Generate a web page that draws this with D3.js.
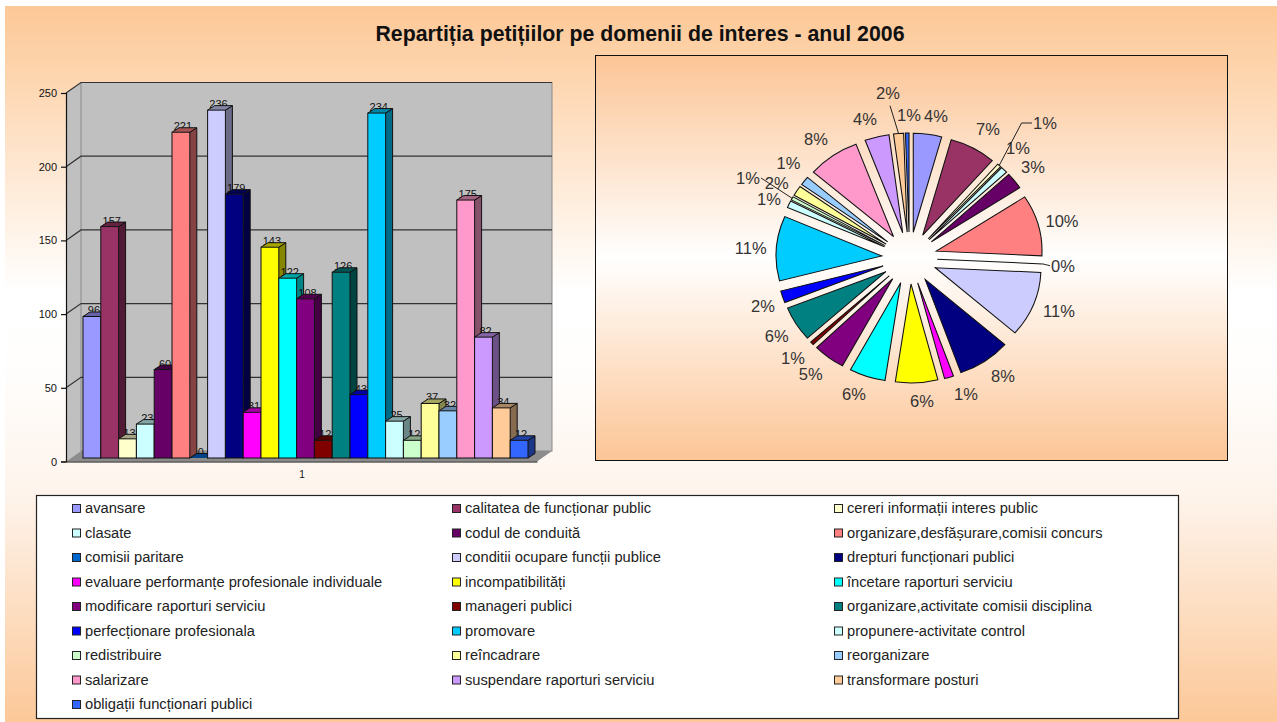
<!DOCTYPE html>
<html>
<head>
<meta charset="utf-8">
<script src="https://cdn.jsdelivr.net/npm/d3@7"></script>
<style>
  html, body { margin: 0; padding: 0; background: #fff; }
  svg { display: block; font-family: "Liberation Sans", Arial, sans-serif; }
</style>
</head>
<body>
<svg width="1277" height="722"></svg>
<script>
const categories = [
  'avansare', 'calitatea de funcționar public', 'cereri informații interes public',
  'clasate', 'codul de conduită', 'organizare,desfășurare,comisii concurs',
  'comisii paritare', 'conditii ocupare funcții publice', 'drepturi funcționari publici',
  'evaluare performanțe profesionale individuale', 'incompatibilități', 'încetare raporturi serviciu',
  'modificare raporturi serviciu', 'manageri publici', 'organizare,activitate comisii disciplina',
  'perfecționare profesionala', 'promovare', 'propunere-activitate control',
  'redistribuire', 'reîncadrare', 'reorganizare',
  'salarizare', 'suspendare raporturi serviciu', 'transformare posturi',
  'obligații funcționari publici'
];
const values = [96, 157, 13, 23, 60, 221, 0, 236, 179, 31, 143, 122, 108, 12, 126, 43, 234, 25, 12, 37, 32, 175, 82, 34, 12];
const colors = [
  '#9999ff', '#993366', '#ffffcc', '#ccffff', '#660066', '#ff8080', '#0066cc', '#ccccff', '#000080',
  '#ff00ff', '#ffff00', '#00ffff', '#800080', '#800000', '#008080', '#0000ff', '#00ccff', '#ccffff',
  '#ccffcc', '#ffff99', '#99ccff', '#ff99cc', '#cc99ff', '#ffcc99', '#3366ff'
];
const yTicks = [0, 50, 100, 150, 200, 250];

const title = 'Repartiția petițiilor pe domenii de interes - anul 2006';

const svg = d3.select('svg');
const defs = svg.append('defs');

function gradient(id, stops) {
  defs.append('linearGradient')
      .attr('id', id)
      .attr('x1', 0).attr('x2', 0).attr('y1', 0).attr('y2', 1)
    .selectAll('stop')
    .data(stops)
    .join('stop')
      .attr('offset', d => d[0])
      .attr('stop-color', d => d[1]);
}
gradient('pageBg', [[0, '#fdc896'], [0.4, '#ffffff'], [0.5, '#fffefd'], [0.68, '#fef4ec'], [1, '#fcc898']]);
gradient('boxBg', [[0, '#fcc596'], [0.5, '#ffffff'], [1, '#fcc596']]);

svg.append('rect')
    .attr('x', 5).attr('y', 6)
    .attr('width', 1272).attr('height', 716)
    .attr('fill', 'url(#pageBg)');

svg.append('text')
    .attr('x', 640).attr('y', 41)
    .attr('text-anchor', 'middle')
    .attr('font-size', 21.3)
    .attr('font-weight', 'bold')
    .attr('fill', '#111')
    .text(title);

/* bar chart */
const depthX = 15, depthY = 10.5;
const x = d3.scaleBand().domain(categories).range([83, 528]);
const y = d3.scaleLinear().domain([0, 250]).range([461.5, 93]);
const barY = d3.scaleLinear().domain([0, 250]).range([458, 89.5]);
const wallL = 66, wallR = 537;

const bars = svg.append('g');

// left wall, back wall, floor
bars.append('path')
    .attr('d', d3.line()([[wallL, y(250)], [wallL + depthX, y(250) - depthY], [wallL + depthX, y(0) - depthY], [wallL, y(0)]]))
    .attr('fill', '#c0c0c0');
bars.append('rect')
    .attr('x', wallL + depthX).attr('y', y(250) - depthY)
    .attr('width', wallR - wallL).attr('height', y(0) - y(250))
    .attr('fill', '#c0c0c0')
    .attr('stroke', '#8a8a8a');
bars.append('path')
    .attr('d', d3.line()([[wallL, y(0)], [wallL + depthX, y(0) - depthY], [wallR + depthX, y(0) - depthY], [wallR, y(0)]]))
    .attr('fill', '#8c8c8c');

// gridlines
bars.selectAll('.grid')
  .data(yTicks.slice(1))
  .join('path')
    .classed('grid', true)
    .attr('d', d => d3.line()([[wallL, y(d)], [wallL + depthX, y(d) - depthY], [wallR + depthX, y(d) - depthY]]))
    .attr('fill', 'none')
    .attr('stroke', '#333')
    .attr('stroke-width', 1.2);

// 3d columns, left to right so each front covers the side of the one before
const series = categories.map((c, i) => ({name: c, value: values[i], color: colors[i]}));
const depth = 7, lift = 4.5;
const column = bars.selectAll('.column')
  .data(series)
  .join('g')
    .classed('column', true);

column.append('text')
    .attr('x', d => x(d.name) + x.bandwidth() / 2 + 2)
    .attr('y', d => barY(d.value) - 2)
    .attr('text-anchor', 'middle')
    .attr('font-size', 11)
    .attr('fill', '#111')
    .text(d => d.value);

column.append('path')
    .attr('d', d => {
      const l = x(d.name), r = l + x.bandwidth(), t = barY(d.value);
      return d3.line()([[r, t], [r + depth, t - lift], [r + depth, barY(0) - lift], [r, barY(0)]]);
    })
    .attr('fill', d => d3.rgb(d.color).darker(1.8))
    .attr('stroke', '#111');
column.append('path')
    .attr('d', d => {
      const l = x(d.name), r = l + x.bandwidth(), t = barY(d.value);
      return d3.line()([[l, t], [l + depth, t - lift], [r + depth, t - lift], [r, t]]);
    })
    .attr('fill', d => d3.rgb(d.color).darker(1.2))
    .attr('stroke', '#111');
column.append('rect')
    .attr('x', d => x(d.name))
    .attr('y', d => barY(d.value))
    .attr('width', x.bandwidth())
    .attr('height', d => barY(0) - barY(d.value))
    .attr('fill', d => d.color)
    .attr('stroke', '#111');

// axes
const yAxis = svg.append('g')
    .attr('transform', `translate(${wallL},0)`)
    .call(d3.axisLeft(y).tickValues(yTicks).tickSize(5).tickPadding(4));
yAxis.selectAll('text').attr('font-size', 11).attr('font-family', '"Liberation Sans"').attr('fill', '#111');
yAxis.selectAll('line, path').attr('stroke', '#111').attr('stroke-width', 1.2);

const xAxis = svg.append('g')
    .attr('transform', `translate(0,${y(0)})`)
    .call(d3.axisBottom(d3.scalePoint().domain(['1']).range([wallL, wallR]).padding(0.5)).tickSize(0).tickPadding(9));
xAxis.selectAll('text').attr('font-size', 10).attr('font-family', '"Liberation Sans"').attr('fill', '#111');
xAxis.select('.domain').attr('stroke', '#111').attr('stroke-width', 1.2);

/* pie chart */
svg.append('rect')
    .attr('x', 595.5).attr('y', 55.5)
    .attr('width', 632).attr('height', 405)
    .attr('fill', 'url(#boxBg)')
    .attr('stroke', '#111');

const cx = 909.5, cy = 258, sx = 1.068;
const radius = 99, explode = 26;
const pie = d3.pie().sort(null).value(d => d.value)(series);
const arc = d3.arc().innerRadius(0).outerRadius(radius);

const pieG = svg.append('g').attr('transform', `translate(${cx},${cy}) scale(${sx},1)`);

pieG.selectAll('.slice')
  .data(pie)
  .join('path')
    .classed('slice', true)
    .attr('d', arc)
    .attr('transform', d => {
      const a = (d.startAngle + d.endAngle) / 2;
      return `translate(${Math.sin(a) * explode},${-Math.cos(a) * explode})`;
    })
    .attr('fill', d => d.data.color)
    .attr('stroke', '#111')
    .attr('stroke-width', 1);

// label centres relative to the pie centre, hand placed like the original
const labelOffsets = [
  [26.5, -142], [78.5, -129], [135.5, -135], [108.5, -110], [123.5, -91],
  [152.5, -37], [153.5, 7.7], [149.5, 53], [93.5, 118], [56.5, 136],
  [12.5, 142.7], [-55.5, 136], [-98.8, 116], [-116.5, 100], [-132.8, 78],
  [-146.5, 47.7], [-158.8, -10], [-140.5, -59], [-161.5, -80], [-132.8, -75],
  [-121, -95], [-93.5, -119], [-44.5, -139], [-21.5, -165.3], [-0.5, -143]
];
const leaderIndex = [2, 6, 18, 23];

const percent = d3.format('.0%');
const total = d3.sum(values);

svg.append('g')
    .selectAll('text')
    .data(pie)
    .join('text')
      .attr('x', (d, i) => cx + labelOffsets[i][0])
      .attr('y', (d, i) => cy + labelOffsets[i][1] + 6)
      .attr('text-anchor', 'middle')
      .attr('font-size', 16.5)
      .attr('fill', '#333')
      .text(d => percent(d.value / total));

svg.append('g')
    .selectAll('path')
    .data(leaderIndex.map(i => [pie[i], labelOffsets[i]]))
    .join('path')
      .attr('d', ([d, off]) => {
        const a = (d.startAngle + d.endAngle) / 2;
        const r = radius + explode;
        const edge = [cx + Math.sin(a) * r * sx, cy - Math.cos(a) * r];
        // label right above its slice: the line stops under the text
        if (Math.abs(off[0]) < 30) return d3.line()([edge, [cx + off[0] + 2, cy + off[1] + 13]]);
        const side = off[0] > 0 ? -13 : 13;
        const end = [cx + off[0] + side, cy + off[1]];
        const knee = off[1] < -100 ? [end[0] + side * 0.8, end[1]] : end;
        return d3.line()([edge, knee, end]);
      })
      .attr('fill', 'none')
      .attr('stroke', '#222');

/* legend */
svg.append('rect')
    .attr('x', 36.5).attr('y', 495.5)
    .attr('width', 1142).attr('height', 223)
    .attr('fill', '#fff')
    .attr('stroke', '#222')
    .attr('stroke-width', 1.2);

const legendCol = d3.scaleOrdinal().domain([0, 1, 2]).range([72, 452, 834]);
const legendRow = d3.scalePoint().domain(d3.range(9)).range([508, 704]);

const legend = svg.append('g')
    .selectAll('g')
    .data(series)
    .join('g')
      .attr('transform', (d, i) => `translate(${legendCol(i % 3)},${legendRow(Math.floor(i / 3))})`);

legend.append('rect')
    .attr('x', 0.5).attr('y', -3.5)
    .attr('width', 8).attr('height', 8)
    .attr('fill', d => d.color)
    .attr('stroke', '#222');
legend.append('text')
    .attr('x', 13)
    .attr('y', 5)
    .attr('font-size', 14.7)
    .attr('fill', '#222')
    .text(d => d.name);
</script>
</body>
</html>
